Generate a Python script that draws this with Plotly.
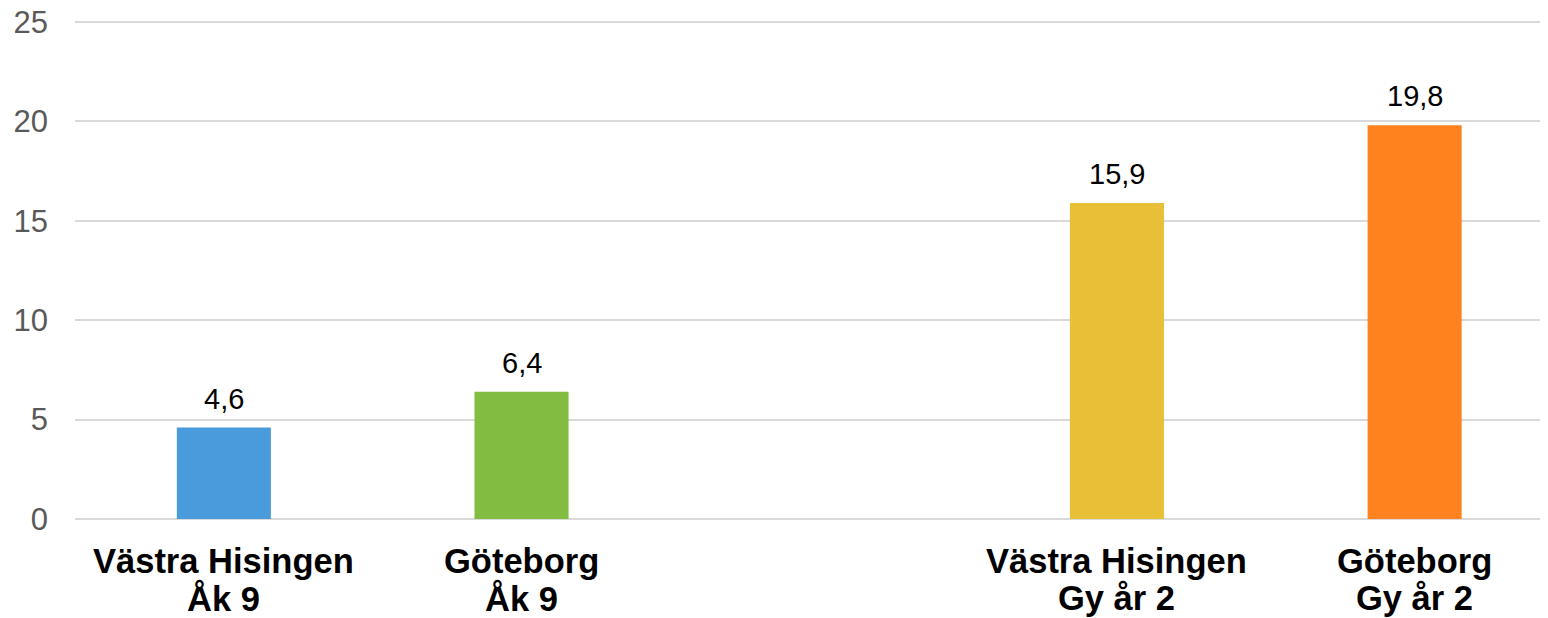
import plotly.graph_objects as go

# Data
regions = ["Västra Hisingen", "Göteborg", "", "Västra Hisingen", "Göteborg"]
groups = ["Åk 9", "Åk 9", "", "Gy år 2", "Gy år 2"]
values = [4.6, 6.4, None, 15.9, 19.8]
colors = ["#4A9BDC", "#82BC41", "#FFFFFF", "#E8C037", "#FF821E"]
y_ticks = [0, 5, 10, 15, 20, 25]

positions = list(range(len(regions)))
FONT = "Liberation Sans, Arial, sans-serif"

fig = go.Figure()
fig.add_trace(go.Bar(
    x=positions,
    y=[v if v is not None else 0 for v in values],
    marker=dict(color=colors, line=dict(width=0)),
    width=0.316,
    hoverinfo="skip",
))

annotations = []
for p, v in zip(positions, values):
    if v is None:
        continue
    annotations.append(dict(
        x=p, y=v, xref="x", yref="y", text=f"{v:.1f}".replace(".", ","),
        showarrow=False, yanchor="bottom", yshift=11,
        font=dict(family=FONT, size=29, color="#000000"),
    ))
for p, r, g in zip(positions, regions, groups):
    if not r:
        continue
    annotations.append(dict(
        x=p, y=0, xref="x", yref="paper", text=f"<b>{r}</b>",
        showarrow=False, yanchor="top", yshift=-21,
        font=dict(family=FONT, size=34.5, color="#000000"),
    ))
    annotations.append(dict(
        x=p, y=0, xref="x", yref="paper", text=f"<b>{g}</b>",
        showarrow=False, yanchor="top", yshift=-58,
        font=dict(family=FONT, size=34.5, color="#000000"),
    ))

fig.update_layout(
    width=1540, height=610, autosize=False,
    margin=dict(l=67, r=0, t=12, b=98.5, pad=0, autoexpand=False),
    plot_bgcolor="white", paper_bgcolor="white",
    showlegend=False,
    separators=", ",
    annotations=annotations,
    xaxis=dict(
        range=[-0.5, 4.448], showticklabels=False, showgrid=False,
        zeroline=False, showline=False, fixedrange=True, automargin=False,
    ),
    yaxis=dict(
        range=[0, 25.1], tickvals=y_ticks, ticktext=[str(t) for t in y_ticks],
        showgrid=True, gridcolor="#D9D9D9", gridwidth=1.5,
        zeroline=True, zerolinecolor="#D9D9D9", zerolinewidth=1.5,
        showline=False, ticks="", ticklabelstandoff=26,
        ticklabeloverflow="allow", automargin=False,
        tickfont=dict(family=FONT, size=31, color="#595959"),
        fixedrange=True,
    ),
)

fig.write_html("out.html")
